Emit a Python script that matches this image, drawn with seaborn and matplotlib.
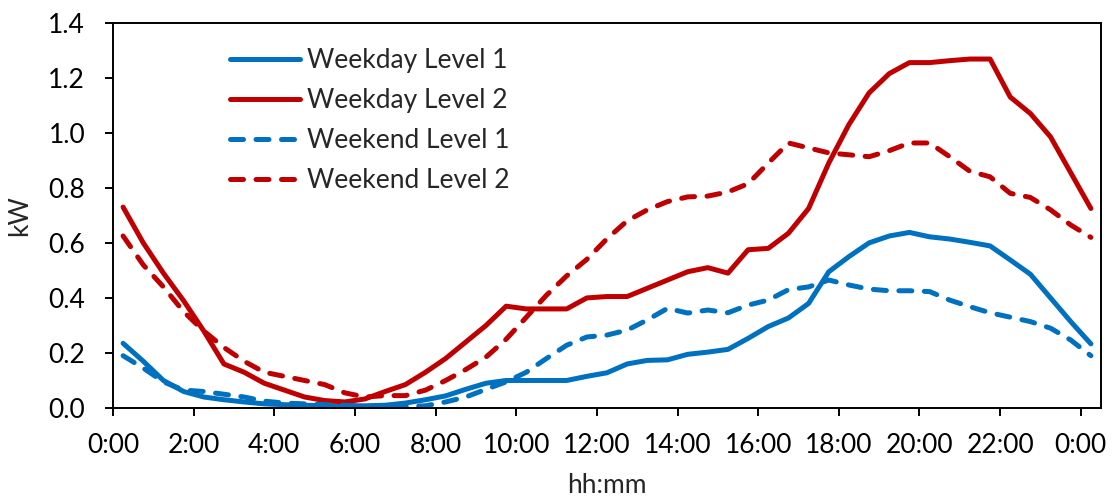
import numpy as np
import pandas as pd
import matplotlib
matplotlib.use("Agg")
import matplotlib.pyplot as plt
import seaborn as sns

# Half-hourly time stamps (hours), 0:15 through 0:15 of the next day
hours = np.arange(0.25, 24.26, 0.5)

weekday_level1 = [
    0.235, 0.17, 0.10, 0.06, 0.04, 0.03, 0.022, 0.015, 0.012, 0.01,
    0.008, 0.008, 0.008, 0.01, 0.018, 0.03, 0.044, 0.068, 0.09, 0.10,
    0.10, 0.10, 0.10, 0.115, 0.128, 0.16, 0.173, 0.175, 0.195, 0.203,
    0.213, 0.253, 0.296, 0.327, 0.38, 0.495, 0.55, 0.60, 0.625, 0.638,
    0.622, 0.614, 0.602, 0.589, 0.538, 0.486, 0.40, 0.314, 0.233,
]
weekday_level2 = [
    0.73, 0.60, 0.49, 0.39, 0.28, 0.16, 0.13, 0.09, 0.065, 0.04,
    0.027, 0.022, 0.033, 0.06, 0.085, 0.13, 0.18, 0.24, 0.30, 0.37,
    0.36, 0.36, 0.36, 0.40, 0.405, 0.405, 0.435, 0.465, 0.495, 0.51,
    0.49, 0.575, 0.58, 0.635, 0.725, 0.89, 1.03, 1.145, 1.215, 1.255,
    1.255, 1.262, 1.268, 1.268, 1.13, 1.07, 0.985, 0.855, 0.725,
]
weekend_level1 = [
    0.19, 0.145, 0.095, 0.065, 0.06, 0.05, 0.04, 0.025, 0.018, 0.015,
    0.012, 0.01, 0.006, 0.005, 0.005, 0.008, 0.022, 0.04, 0.068, 0.095,
    0.13, 0.18, 0.228, 0.258, 0.265, 0.283, 0.32, 0.362, 0.345, 0.356,
    0.346, 0.374, 0.392, 0.43, 0.44, 0.465, 0.447, 0.432, 0.426, 0.426,
    0.423, 0.392, 0.368, 0.346, 0.33, 0.314, 0.29, 0.247, 0.19,
]
weekend_level2 = [
    0.625, 0.52, 0.44, 0.35, 0.28, 0.22, 0.17, 0.13, 0.115, 0.10,
    0.085, 0.055, 0.04, 0.045, 0.045, 0.065, 0.10, 0.14, 0.185, 0.25,
    0.33, 0.41, 0.48, 0.54, 0.615, 0.68, 0.72, 0.75, 0.767, 0.77,
    0.785, 0.815, 0.89, 0.963, 0.945, 0.927, 0.92, 0.913, 0.935, 0.963,
    0.963, 0.913, 0.86, 0.84, 0.78, 0.765, 0.72, 0.665, 0.62,
]

series_names = ["Weekday Level 1", "Weekday Level 2", "Weekend Level 1", "Weekend Level 2"]
tick_hours = list(range(0, 25, 2))
tick_labels = ["0:00", "2:00", "4:00", "6:00", "8:00", "10:00", "12:00",
               "14:00", "16:00", "18:00", "20:00", "22:00", "0:00"]
y_ticks = [0.0, 0.2, 0.4, 0.6, 0.8, 1.0, 1.2, 1.4]

BLUE = "#0070C0"
RED = "#C00000"
palette = {series_names[0]: BLUE, series_names[1]: RED,
           series_names[2]: BLUE, series_names[3]: RED}
dashes = {series_names[0]: "", series_names[1]: "",
          series_names[2]: (2.6, 2.5), series_names[3]: (2.6, 2.5)}

frames = []
for name, vals in zip(series_names, [weekday_level1, weekday_level2,
                                     weekend_level1, weekend_level2]):
    frames.append(pd.DataFrame({"hour": hours, "kW": vals, "series": name}))
df = pd.concat(frames, ignore_index=True)

sns.set_style("ticks")
plt.rcParams["font.family"] = ["Lato", "DejaVu Sans"]
plt.rcParams["axes.linewidth"] = 1.4

fig = plt.figure(figsize=(11.2, 5), dpi=100)
ax = fig.add_axes([0.1009, 0.184, 0.8821, 0.7706])

sns.lineplot(data=df, x="hour", y="kW", hue="series", style="series",
             hue_order=series_names, style_order=series_names,
             palette=palette, dashes=dashes, linewidth=3.6,
             solid_capstyle="round", dash_capstyle="round",
             solid_joinstyle="round", dash_joinstyle="round", ax=ax)

ax.set_xlim(0, 24.5)
ax.set_ylim(0, 1.4)
ax.set_xticks(tick_hours)
ax.set_xticklabels(tick_labels)
ax.set_yticks(y_ticks)
ax.set_yticklabels([f"{v:.1f}" for v in y_ticks])

for side in ["top", "right", "left", "bottom"]:
    ax.spines[side].set_visible(True)
    ax.spines[side].set_color("black")
    ax.spines[side].set_linewidth(1.4)

ax.tick_params(axis="both", direction="out", length=6, width=1.4,
               colors="black", labelsize=19)
ax.tick_params(axis="y", pad=14)
ax.tick_params(axis="x", pad=12)

ax.set_xlabel("hh:mm", fontsize=19, labelpad=11)
ax.set_ylabel("kW", fontsize=19, labelpad=12)

sns.move_legend(ax, "upper left", bbox_to_anchor=(0.118, 0.935),
                frameon=False, title=None, fontsize=19,
                borderaxespad=0, borderpad=0, handlelength=2.65,
                handletextpad=0.3, labelspacing=0.57)

fig.savefig("out.png", dpi=100)
